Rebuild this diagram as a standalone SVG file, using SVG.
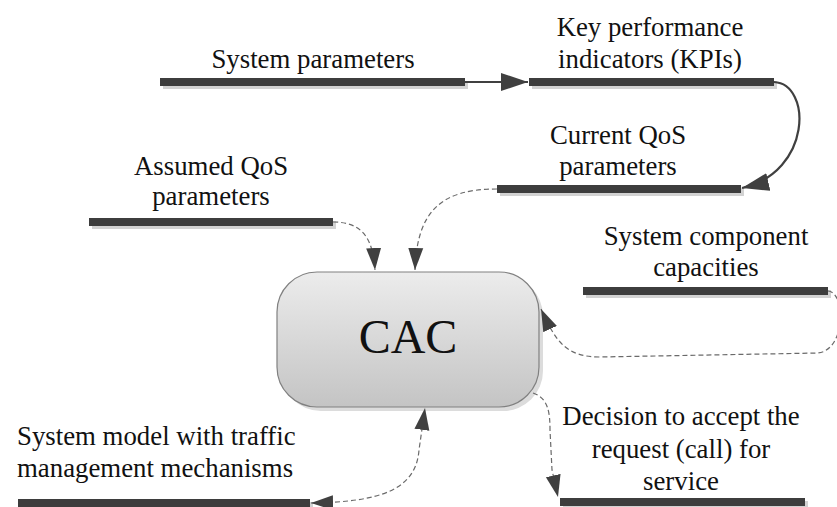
<svg xmlns="http://www.w3.org/2000/svg" width="837" height="507" viewBox="0 0 837 507" font-family="Liberation Serif, Times New Roman, serif">
<style>
text{font-family:"Liberation Serif","Times New Roman",serif;font-size:26.8px;fill:#111}
.c{text-anchor:middle}
.bar{fill:#3d3d3d}
.sh{fill:#d2d2d2}
.solid{fill:none;stroke:#404040;stroke-width:2.2}
.dash{fill:none;stroke:#6a6a6a;stroke-width:1.2;stroke-dasharray:5 3}
</style>
<defs>
<linearGradient id="g" x1="0" y1="0" x2="0" y2="1">
<stop offset="0" stop-color="#ececec"/>
<stop offset="1" stop-color="#c4c4c4"/>
</linearGradient>
<marker id="big" markerUnits="userSpaceOnUse" markerWidth="28" markerHeight="20" refX="27" refY="9" orient="auto-start-reverse" viewBox="0 0 28 18">
<path d="M0,0 L27,9 L0,18 z" fill="#404040"/>
</marker>
<marker id="sm" markerUnits="userSpaceOnUse" markerWidth="23" markerHeight="16" refX="22" refY="7.5" orient="auto-start-reverse" viewBox="0 0 23 15">
<path d="M0,0 L22,7.5 L0,15 z" fill="#404040"/>
</marker>
</defs>

<g id="cac">
<rect x="281" y="276" width="262" height="135" rx="40" fill="#dcdcdc"/>
<rect x="277" y="272" width="262" height="135" rx="40" fill="url(#g)" stroke="#808080" stroke-width="1.2"/>
<text x="408" y="353" class="c" style="font-size:48px">CAC</text>
</g>

<g id="system-parameters">
<rect class="sh" x="163" y="81" width="305" height="8"/>
<rect class="bar" x="160" y="78" width="305" height="8"/>
<text x="313" y="68" class="c">System parameters</text>
</g>

<g id="kpi">
<rect class="sh" x="532" y="81" width="245" height="8"/>
<rect class="bar" x="529" y="78" width="245" height="8"/>
<text x="650" y="36" class="c">Key performance</text>
<text x="650" y="68" class="c">indicators (KPIs)</text>
</g>

<g id="current-qos">
<rect class="sh" x="500" y="188" width="244" height="8"/>
<rect class="bar" x="497" y="185" width="244" height="8"/>
<text x="618" y="144" class="c">Current QoS</text>
<text x="618" y="175" class="c">parameters</text>
</g>

<g id="assumed-qos">
<rect class="sh" x="92" y="221" width="244" height="8"/>
<rect class="bar" x="89" y="218" width="244" height="8"/>
<text x="211" y="175" class="c">Assumed QoS</text>
<text x="211" y="205" class="c">parameters</text>
</g>

<g id="capacities">
<rect class="sh" x="586" y="290" width="245" height="8"/>
<rect class="bar" x="583" y="287" width="245" height="8"/>
<text x="706" y="245" class="c">System component</text>
<text x="706" y="276" class="c">capacities</text>
</g>

<g id="system-model">
<rect class="sh" x="21" y="502" width="292" height="8"/>
<rect class="bar" x="18" y="499" width="292" height="8"/>
<text x="17" y="445">System model with traffic</text>
<text x="17" y="477">management mechanisms</text>
</g>

<g id="decision">
<rect class="sh" x="563" y="501" width="245" height="8"/>
<rect class="bar" x="560" y="498" width="245" height="8"/>
<text x="681" y="425" class="c">Decision to accept the</text>
<text x="681" y="458" class="c">request (call) for</text>
<text x="681" y="490" class="c">service</text>
</g>

<g id="connectors">
<path class="solid" d="M465,82 L528,82" marker-end="url(#big)"/>
<path class="solid" d="M774,82 C812,84 812,172 742,188" marker-end="url(#big)"/>
<path class="dash" d="M333,222 C362,222 373,238 375,270" marker-end="url(#sm)"/>
<path class="dash" d="M497,189 C440,189 417,212 415,270" marker-end="url(#sm)"/>
<path class="dash" d="M828,291 C846,292 846,350 818,353 L600,357 C566,357 556,342 541,309" marker-end="url(#sm)"/>
<path class="dash" d="M311,503 C380,502 416,490 419,450 L425,408" marker-start="url(#sm)" marker-end="url(#sm)"/>
<path class="dash" d="M533,393 C548,398 550,412 550,430 L552,470 L558,497" marker-end="url(#sm)"/>
</g>
</svg>
